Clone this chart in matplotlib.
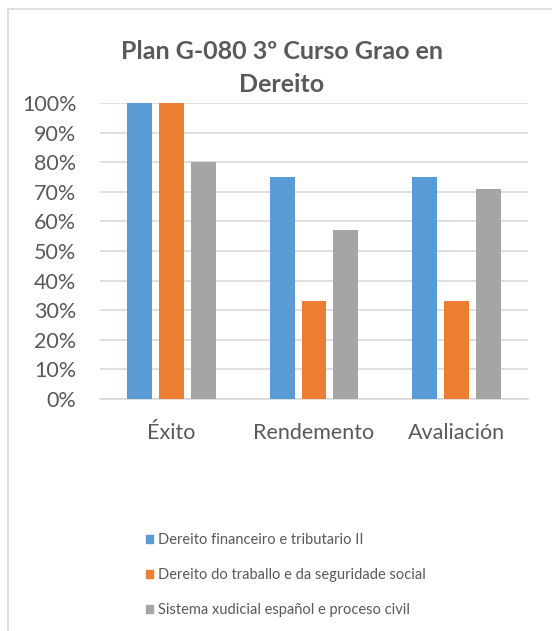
import numpy as np
import matplotlib.pyplot as plt
from matplotlib.patches import Rectangle, Patch

plt.rcParams["font.family"] = ["Lato", "DejaVu Sans"]

categories = ["Éxito", "Rendemento", "Avaliación"]
series_names = [
    "Dereito financeiro e tributario II",
    "Dereito do traballo e da seguridade social",
    "Sistema xudicial español e proceso civil",
]
values = [
    [100, 75, 75],
    [100, 33, 33],
    [80, 57, 71],
]
colors = ["#5B9BD5", "#ED7D31", "#A5A5A5"]
text_color = "#595959"
grid_color = "#D9D9D9"

fig = plt.figure(figsize=(5.52, 6.31), dpi=100)
fig.set_facecolor("white")

# chart frame (only left and top edges visible in the crop)
fig.patches.append(Rectangle((8 / 552, -0.1), 1.2, 1 - 9 / 631 + 0.1,
                             transform=fig.transFigure, fill=False,
                             edgecolor=grid_color, linewidth=1.2))

ax = fig.add_axes([100 / 552, 1 - 399 / 631, 428 / 552, 296 / 631])

x = np.arange(len(categories))
width = 0.175
step = 0.223
for i, (name, vals, c) in enumerate(zip(series_names, values, colors)):
    ax.bar(x + (i - 1) * step, vals, width, color=c, label=name, zorder=3)

ax.set_xlim(-0.5, 2.5)
ax.set_ylim(0, 100)
ax.set_yticks(np.arange(0, 101, 10))
ax.set_yticklabels([f"{v}%" for v in range(0, 101, 10)])
ax.set_xticks(x)
ax.set_xticklabels(categories)
ax.tick_params(axis="y", length=0, pad=17, labelsize=15.5, labelcolor=text_color)
ax.tick_params(axis="x", length=0, pad=17, labelsize=15.5, labelcolor=text_color)
ax.yaxis.grid(True, color=grid_color, linewidth=1.2, zorder=0)
for s in ["top", "right", "left"]:
    ax.spines[s].set_visible(False)
ax.spines["bottom"].set_color(grid_color)
ax.spines["bottom"].set_linewidth(1.2)

fig.text(282 / 552, 1 - 68 / 631, "Plan G-080 3º Curso Grao en\nDereito",
         ha="center", va="center", fontsize=18, fontweight="bold",
         color=text_color, linespacing=1.55)

handles = [Patch(color=c) for c in colors]
fig.legend(handles, series_names, loc="upper left",
           bbox_to_anchor=(133 / 552, 1 - 520 / 631), frameon=False,
           fontsize=10.5, labelcolor=text_color, handlelength=0.5,
           handleheight=0.5, handletextpad=0.3, labelspacing=1.45)

fig.savefig("out.png", dpi=100, facecolor="white")
